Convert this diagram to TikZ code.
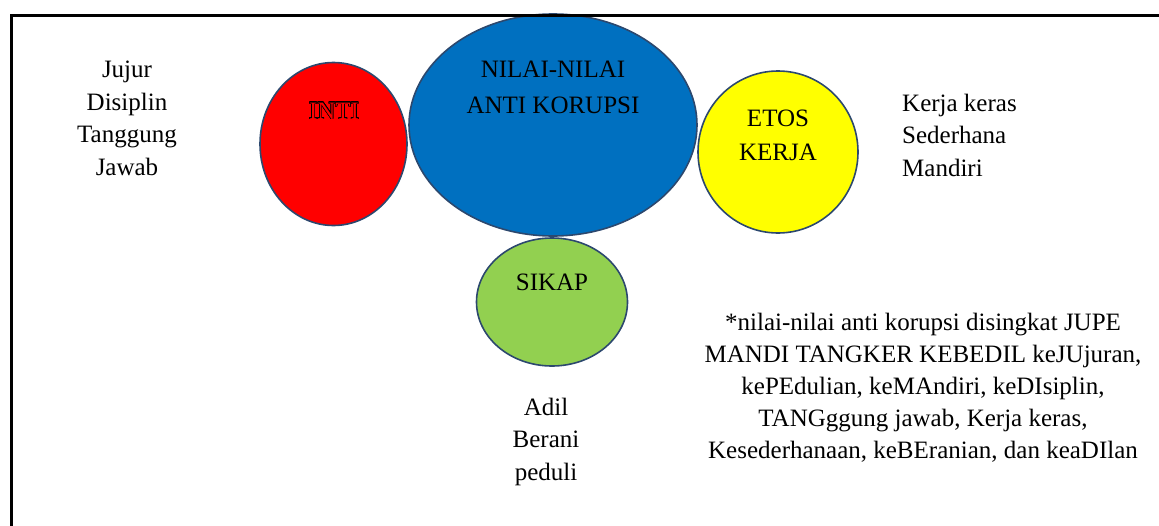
\documentclass[tikz,border=0pt]{standalone}
\usepackage{fontspec}
\setmainfont{Liberation Serif}
\usepackage{contour}
\contourlength{0.6pt}
\contournumber{24}
\definecolor{outl}{RGB}{44,72,110}
\definecolor{cred}{RGB}{255,0,0}
\definecolor{cblue}{RGB}{0,112,192}
\definecolor{cyellow}{RGB}{255,255,0}
\definecolor{cgreen}{RGB}{146,208,80}
\tikzset{
  bubble/.style={draw=outl, line width=1.6pt},
  lbl/.style={font=\fontsize{25}{36}\selectfont, text=black, inner sep=0pt},
  side/.style={font=\fontsize{25}{32.5}\selectfont, text=black, inner sep=0pt, align=center},
}
\begin{document}
\begin{tikzpicture}[x=1pt,y=-1pt]
\useasboundingbox (0,0) rectangle (1159,525);
% bubbles
\path[bubble, fill=cred] (333.5,144) ellipse [x radius=73.5, y radius=81.5];
\path[bubble, fill=cblue] (553,125) ellipse [x radius=144, y radius=111];
\path[bubble, fill=cyellow] (778,152) ellipse [x radius=80, y radius=81];
\path[bubble, fill=cgreen] (552,302) ellipse [x radius=75.5, y radius=64];
% bubble labels (base = baseline of last line)
\node[lbl, anchor=base] (inti) at (334,119) {\contour{black}{\textcolor{cred}{INTI}}};
\node[lbl, align=center, anchor=base] (nilai) at (553,113) {NILAI-NILAI\\ANTI KORUPSI};
\node[lbl, align=center, anchor=base] (etos) at (778,160) {ETOS\\[-2pt]KERJA};
\node[lbl, anchor=base] (sikap) at (552,290) {SIKAP};
% side texts
\node[side, anchor=base] (left) at (127,175) {Jujur\\Disiplin\\Tanggung\\Jawab};
\node[side, anchor=base west, align=left] (right) at (902,176) {Kerja keras\\Sederhana\\Mandiri};
\node[side, anchor=base] (bottom) at (546,480) {Adil\\Berani\\peduli};
\node[side, anchor=base, font=\fontsize{25}{32}\selectfont] (note) at (923,458) {*nilai-nilai anti korupsi disingkat JUPE\\MANDI TANGKER KEBEDIL keJUjuran,\\kePEdulian, keMAndiri, keDIsiplin,\\TANGggung jawab, Kerja keras,\\Kesederhanaan, keBEranian, dan keaDIlan};
% frame
\draw[line width=3pt, line cap=rect] (1159,15) -- (11,15) -- (11,525);
\end{tikzpicture}
\end{document}
